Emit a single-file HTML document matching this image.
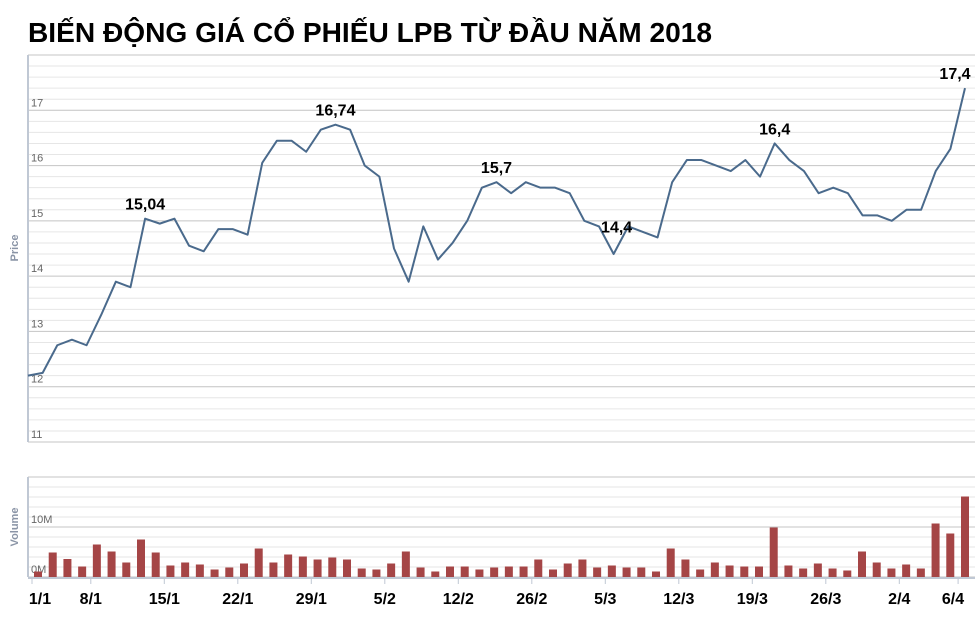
<!DOCTYPE html>
<html><head><meta charset="utf-8"><style>
html,body{margin:0;padding:0;background:#fff;}
svg{display:block;font-family:"Liberation Sans","DejaVu Sans",sans-serif;}
</style></head><body>
<svg id="chart" width="980" height="626" viewBox="0 0 980 626">
<text x="28" y="42" font-size="28" font-weight="bold" fill="#000" textLength="684" lengthAdjust="spacingAndGlyphs">BIẾN ĐỘNG GIÁ CỔ PHIẾU LPB TỪ ĐẦU NĂM 2018</text>
<g id="grid"></g>
<g id="bars"></g>
<g id="line"></g>
<g id="labels"></g>
<text transform="translate(18,248) rotate(-90)" text-anchor="middle" font-size="11" font-weight="bold" fill="#8a94a6">Price</text>
<text transform="translate(18,527) rotate(-90)" text-anchor="middle" font-size="11" font-weight="bold" fill="#8a94a6">Volume</text>
</svg>
<script>
const prices = [12.2,12.25,12.75,12.85,12.75,13.3,13.9,13.8,15.04,14.95,15.04,14.55,14.45,14.85,14.85,14.75,16.05,16.45,16.45,16.25,16.65,16.74,16.65,16.0,15.8,14.5,13.9,14.9,14.3,14.6,15.0,15.6,15.7,15.5,15.7,15.6,15.6,15.5,15.0,14.9,14.4,14.9,14.8,14.7,15.7,16.1,16.1,16.0,15.9,16.1,15.8,16.4,16.1,15.9,15.5,15.6,15.5,15.1,15.1,15.0,15.2,15.2,15.9,16.3,17.4];
const volumes = [1.1,4.9,3.6,2.1,6.5,5.1,2.9,7.5,4.9,2.3,2.9,2.5,1.5,1.9,2.7,5.7,2.9,4.5,4.1,3.5,3.9,3.5,1.7,1.5,2.7,5.1,1.9,1.1,2.1,2.1,1.5,1.9,2.1,2.1,3.5,1.5,2.7,3.5,1.9,2.3,1.9,1.9,1.1,5.7,3.5,1.5,2.9,2.3,2.1,2.1,9.9,2.3,1.7,2.7,1.7,1.3,5.1,2.9,1.7,2.5,1.7,10.7,8.7,16.1];
const xLabels = ["1/1","8/1","15/1","22/1","29/1","5/2","12/2","26/2","5/3","12/3","19/3","26/3","2/4","6/4"];
const xLabelIdx = [0,4,9,14,19,24,29,34,39,44,49,54,59,63];
const priceTicks = [11,12,13,14,15,16,17];
const volTicks = ["0M","10M"];
const annIdx = [8,21,32,40,51,64];
const annText = ["15,04","16,74","15,7","14,4","16,4","17,4"];

const NS="http://www.w3.org/2000/svg";
function mk(tag,attrs,parent){const e=document.createElementNS(NS,tag);for(const k in attrs)e.setAttribute(k,attrs[k]);parent.appendChild(e);return e;}
const L=28,R=975,PT=55,PB=442,VT=477,VB=577;
const py=v=>PB-(v-11)/(18-11)*(PB-PT);
const px=i=>28+i*(965-28)/(prices.length-1);
const vy=v=>VB-v/20*(VB-VT);
const bx=i=>38+i*(965-38)/(volumes.length-1);
const lx=i=>32+i*14.7;
const grid=document.getElementById('grid');
for(let k=0;k<=35;k++){const v=11+k*0.2;const y=py(v);const major=(k%5===0);
 const g=mk('line',{x1:L,x2:R,y1:y,y2:y,stroke:major?'#c4c4c4':'#e6e6e6','stroke-width':1},grid);
 
 }
for(let k=0;k<=10;k++){const y=vy(k*2);const major=(k%5===0);
 const g=mk('line',{x1:L,x2:R,y1:y,y2:y,stroke:major?'#c4c4c4':'#e6e6e6','stroke-width':1},grid);
 
 }
const a1=mk('line',{x1:L,x2:L,y1:PT,y2:PB,stroke:'#c0c8d4','stroke-width':2},grid);


const a2=mk('line',{x1:L,x2:L,y1:VT,y2:VB,stroke:'#c0c8d4','stroke-width':2},grid);


const a3=mk('line',{x1:L,x2:R,y1:VB+1,y2:VB+1,stroke:'#c0c8d4','stroke-width':2},grid);


priceTicks.forEach(v=>{const t=mk('text',{x:31,y:py(v)-4,'font-size':11,fill:'#666'},grid);t.textContent=v;
 
 });
volTicks.forEach((s,k)=>{const t=mk('text',{x:31,y:vy(k*10)-4,'font-size':11,fill:'#666'},grid);t.textContent=s;
 
 });
const bars=document.getElementById('bars');
volumes.forEach((v,i)=>{const b=mk('rect',{x:bx(i)-4,y:vy(v),width:8,height:VB-vy(v),fill:'#a54546'},bars);
 
 });
const line=document.getElementById('line');
const pl=mk('polyline',{points:prices.map((v,i)=>px(i)+','+py(v)).join(' '),fill:'none',stroke:'#4a6a8c','stroke-width':2,'stroke-linejoin':'round'},line);


const labels=document.getElementById('labels');
annIdx.forEach((idx,k)=>{let x=px(idx);if(x>950)x=955;
 let y=py(prices[idx])-9;
 if(idx>0&&idx<prices.length-1&&prices[idx]<prices[idx-1]&&prices[idx]<prices[idx+1]){x+=3;y=py(prices[idx+1])+6;}
 const t=mk('text',{x:x,y:y,'text-anchor':'middle','font-size':16,'font-weight':'bold',fill:'#000'},labels);t.textContent=annText[k];
 
 });
xLabels.forEach((s,k)=>{let x=lx(xLabelIdx[k]);
 const tk=mk('line',{x1:x,x2:x,y1:VB+2,y2:VB+7,stroke:'#c0c8d4','stroke-width':1},labels);
 
 
 if(k===0)x=40;if(k===xLabels.length-1)x=953;
 const t=mk('text',{x:x,y:604,'text-anchor':'middle','font-size':16,'font-weight':'bold',fill:'#000'},labels);t.textContent=s;
 
 });
</script>
</body></html>
